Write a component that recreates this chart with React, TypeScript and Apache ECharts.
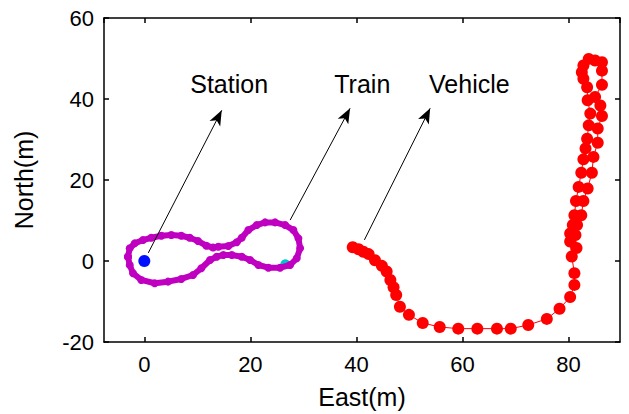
import React, { useEffect, useRef } from "react";
import * as echarts from "echarts";

// Train track loop (East, North) in metres
const trainPath: [number, number][] = [
  [-3.08, 1.06], [-2.75, 3.13], [-1.81, 4.36], [-0.25, 5.17], [1.32, 5.74], [3.21, 6.23],
  [5.09, 6.4], [6.98, 6.23], [8.57, 5.74], [10.13, 4.93], [11.7, 3.77], [12.96, 3.33],
  [13.96, 3.52], [15.85, 3.69], [17.43, 4.61], [18.38, 5.74], [19.62, 7.64], [21.21, 8.87],
  [22.77, 9.53], [24.66, 9.53], [26.55, 8.87], [28.11, 7.64], [29.06, 5.59], [29.38, 3.13],
  [28.75, 0.67], [27.49, -0.99], [25.6, -1.65], [23.4, -1.65], [21.51, -0.99], [19.94, 0.25],
  [18.38, 1.06], [16.49, 1.48], [14.91, 1.48], [13.66, 1.06], [12.4, 0.25], [10.75, -1.8],
  [9.19, -3.45], [6.98, -4.43], [4.47, -5.1], [1.96, -5.49], [-0.57, -4.68], [-2.13, -3.03],
  [-2.75, -0.99], [-3.08, 1.06],
];

// Vehicle trajectory (East, North) in metres
const vehiclePath: [number, number][] = [
  [39.3, 3.4], [40.4, 2.9], [41.3, 2.3], [42.3, 1.7], [43.5, 0.2], [44.8, -1.2], [45.7, -2.6],
  [46.4, -4.7], [47.0, -6.5], [47.5, -8.4], [48.2, -11.3], [49.9, -13.3], [52.5, -15.3],
  [55.7, -16.3], [59.2, -16.7], [62.8, -16.7], [66.5, -16.7], [69.1, -16.7], [72.4, -15.8],
  [75.9, -14.3], [78.3, -11.8], [80.3, -8.9], [81.1, -5.9], [81.1, -3.0], [80.6, 1.1],
  [80.3, 4.8], [80.3, 6.8], [80.8, 8.9], [81.1, 11.3], [81.4, 14.8], [81.9, 18.3], [82.4, 21.8],
  [82.8, 25.1], [83.2, 27.8], [83.5, 30.2], [83.8, 33.5], [84.1, 36.4], [83.6, 39.7],
  [83.5, 42.9], [82.8, 45.0], [82.5, 46.6], [82.8, 48.3], [83.8, 49.9], [85.0, 49.5],
  [86.3, 49.1], [86.3, 47.0], [86.3, 43.5], [85.0, 40.5], [86.0, 38.4], [86.3, 35.8],
  [85.5, 32.7], [85.5, 29.2], [84.7, 25.7], [84.4, 21.8], [83.6, 17.9], [82.8, 14.8],
  [82.4, 11.3], [81.6, 8.9], [81.3, 6.4], [81.5, 3.2],
];

const stationPoint: [number, number] = [0, 0];
const trainPoint: [number, number] = [26.6, -0.8];

// Annotations
const labelNames = ["Station", "Train", "Vehicle"];
const labelCoords: [number, number][] = [[16.0, 43.8], [41.1, 43.8], [61.3, 43.8]];
const arrowStarts: [number, number][] = [[0.75, 2.0], [27.5, 10.1], [41.5, 5.2]];
const arrowEnds: [number, number][] = [[14.6, 37.2], [38.8, 37.7], [53.9, 37.7]];

const xMin = -7.6;
const xMax = 89.7;
const yMin = -20;
const yMax = 60;

const FONT = "'Liberation Sans', Arial, sans-serif";

export default function App() {
  const ref = useRef<HTMLDivElement>(null);
  useEffect(() => {
    if (!ref.current) return;
    const chart = echarts.init(ref.current, undefined, { renderer: "svg" });
    const axisLine = { show: true, onZero: false, lineStyle: { color: "#000", width: 1.5 } };
    const axisTick = { show: true, inside: true, length: 5, lineStyle: { color: "#000", width: 1.5 } };
    chart.setOption({
      animation: false,
      backgroundColor: "#fff",
      grid: { left: 104, right: 9, top: 18, bottom: 71 },
      xAxis: [
        {
          type: "value", position: "bottom", min: xMin, max: xMax, splitNumber: 5,
          name: "East(m)", nameLocation: "middle", nameGap: 42,
          nameTextStyle: { fontFamily: FONT, fontSize: 25, color: "#000" },
          axisLine, axisTick, splitLine: { show: false },
          axisLabel: { fontFamily: FONT, fontSize: 22, color: "#000", margin: 11, showMinLabel: false, showMaxLabel: false },
        },
        {
          type: "value", position: "top", min: xMin, max: xMax, splitNumber: 5,
          axisLine, axisTick, splitLine: { show: false }, axisLabel: { show: false },
        },
      ],
      yAxis: [
        {
          type: "value", position: "left", min: yMin, max: yMax, interval: 20,
          name: "North(m)", nameLocation: "middle", nameGap: 68,
          nameTextStyle: { fontFamily: FONT, fontSize: 25, color: "#000" },
          axisLine, axisTick, splitLine: { show: false },
          axisLabel: { fontFamily: FONT, fontSize: 22, color: "#000", margin: 10 },
        },
        {
          type: "value", position: "right", min: yMin, max: yMax, interval: 20,
          axisLine, axisTick, splitLine: { show: false }, axisLabel: { show: false },
        },
      ],
      series: [
        {
          type: "scatter", data: [trainPoint], symbolSize: 10,
          itemStyle: { color: "#00c8c8", opacity: 1 }, z: 1,
        },
        {
          type: "line", data: trainPath, symbol: "circle", symbolSize: 8, showSymbol: true,
          lineStyle: { color: "#c000c0", width: 6 }, itemStyle: { color: "#c000c0", opacity: 1 }, z: 2,
        },
        {
          type: "scatter", data: [stationPoint], symbolSize: 12,
          itemStyle: { color: "#0010ff", opacity: 1 }, z: 3,
        },
        {
          type: "line", data: vehiclePath, symbol: "circle", symbolSize: 12, showSymbol: true,
          lineStyle: { color: "#ff0000", width: 1 }, itemStyle: { color: "#ff0000", opacity: 1 }, z: 2,
        },
        {
          type: "scatter", data: [], z: 5,
          markLine: {
            silent: true, symbol: ["none", "arrow"], symbolSize: [9, 15],
            lineStyle: { color: "#000", width: 1, type: "solid" },
            label: { show: false },
            data: arrowStarts.map((s, i) => [{ coord: s }, { coord: arrowEnds[i] }]),
          },
          markPoint: {
            silent: true, symbol: "circle", symbolSize: 0,
            label: {
              show: true, position: "inside", fontFamily: FONT, fontSize: 25, color: "#000",
              formatter: (p: any) => p.name,
            },
            data: labelNames.map((n, i) => ({ name: n, coord: labelCoords[i] })),
          },
        },
      ],
    });
    return () => chart.dispose();
  }, []);
  return (
    <div
      ref={ref}
      style={{ position: "fixed", left: 0, top: 0, width: 629, height: 414 }}
    />
  );
}
